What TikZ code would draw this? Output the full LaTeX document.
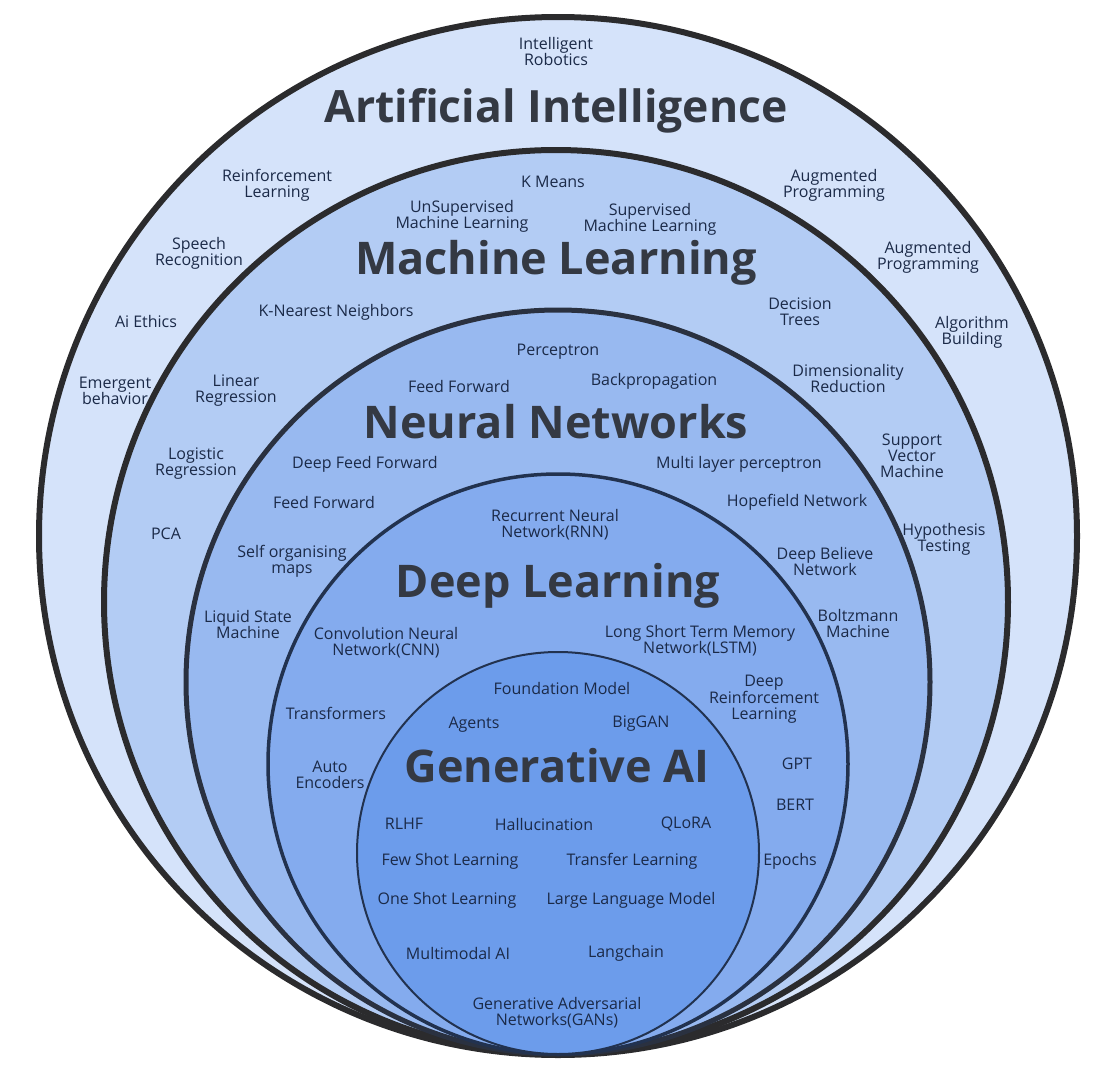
\documentclass[tikz,border=0pt]{standalone}
\usepackage{fontspec}
\setmainfont{Open Sans}
\definecolor{aiF}{HTML}{D5E3FA}
\definecolor{mlF}{HTML}{B3CCF4}
\definecolor{nnF}{HTML}{98B9F0}
\definecolor{dlF}{HTML}{84ABEE}
\definecolor{gaF}{HTML}{6C9CEB}
\definecolor{rimA}{HTML}{2B2B2D}
\definecolor{rimB}{HTML}{2A3140}
\definecolor{rimC}{HTML}{22324F}
\definecolor{lblC}{HTML}{1B2A48}
\definecolor{ttlC}{HTML}{343943}
\begin{document}
\begin{tikzpicture}[x=1pt,y=-1pt,
  lbl/.style={text=lblC,align=center,inner sep=0pt,font=\fontsize{16}{16}\selectfont},
  ttl/.style={text=ttlC,inner sep=0pt,anchor=base,font=\fontsize{45}{48}\selectfont\bfseries},
  ring/.style={circle,inner sep=0pt}]
\useasboundingbox (0,0) rectangle (1104,1084);
% circles (all tangent at bottom)
\node[ring,draw=rimA,line width=6pt,fill=aiF,minimum size=1038pt] (ai) at (558,536) {};
\node[ring,draw=rimA,line width=6pt,fill=mlF,minimum size=904pt] (ml) at (556,602) {};
\node[ring,draw=rimB,line width=5pt,fill=nnF,minimum size=744pt] (nn) at (558,682) {};
\node[ring,draw=rimC,line width=3.5pt,fill=dlF,minimum size=580pt] (dl) at (558,764) {};
\node[ring,draw=rimC,line width=2pt,fill=gaF,minimum size=402pt] (ga) at (558,853) {};
% AI ring
\node[lbl] (l1) at (556,51) {Intelligent\\Robotics};
\node[ttl,font=\fontsize{44.5}{48}\selectfont\bfseries] (tai) at (556,122) {Artificial Intelligence};
\node[lbl] (l2) at (277,185) {Reinforcement\\Learning};
\node[lbl] (l3) at (199,253) {Speech\\Recognition};
\node[lbl] (l4) at (146,321) {Ai Ethics};
\node[lbl] (l5) at (115,391) {Emergent\\behavior};
\node[lbl] (l6) at (834,185) {Augmented\\Programming};
\node[lbl] (l7) at (928,257) {Augmented\\Programming};
\node[lbl] (l8) at (972,332) {Algorithm\\Building};
% ML ring
\node[lbl] (m1) at (553,182) {K Means};
\node[lbl] (m2) at (462,216) {UnSupervised\\Machine Learning};
\node[lbl] (m3) at (650,219) {Supervised\\Machine Learning};
\node[ttl] (tml) at (556,274) {Machine Learning};
\node[lbl] (m4) at (336,312) {K-Nearest Neighbors};
\node[lbl] (m5) at (800,312) {Decision\\Trees};
\node[lbl] (m6) at (848,378) {Dimensionality\\Reduction};
\node[lbl] (m7) at (236,391) {Linear\\Regression};
\node[lbl] (m8) at (196,464) {Logistic\\Regression};
\node[lbl] (m9) at (166,534) {PCA};
\node[lbl] (m10) at (912,456) {Support\\Vector\\Machine};
\node[lbl] (m11) at (944,539) {Hypothesis\\Testing};
% NN ring
\node[lbl] (n1) at (558,352) {Perceptron};
\node[lbl] (n2) at (459,386) {Feed Forward};
\node[lbl] (n3) at (654,381) {Backpropagation};
\node[ttl] (tnn) at (556,438) {Neural Networks};
\node[lbl] (n4) at (365,464) {Deep Feed Forward};
\node[lbl] (n5) at (739,464) {Multi layer perceptron};
\node[lbl] (n6) at (324,502) {Feed Forward};
\node[lbl] (n7) at (797,502) {Hopefield Network};
\node[lbl] (n8) at (292,561) {Self organising\\maps};
\node[lbl] (n9) at (825,561) {Deep Believe\\Network};
\node[lbl] (n10) at (248,624) {Liquid State\\Machine};
\node[lbl] (n11) at (858,623) {Boltzmann\\Machine};
% DL ring
\node[lbl] (d1) at (555,525) {Recurrent Neural\\Network(RNN)};
\node[ttl] (tdl) at (558,597) {Deep Learning};
\node[lbl] (d2) at (386,643) {Convolution Neural\\Network(CNN)};
\node[lbl] (d3) at (700,641) {Long Short Term Memory\\Network(LSTM)};
\node[lbl] (d4) at (336,713) {Transformers};
\node[lbl] (d5) at (764,699) {Deep\\Reinforcement\\Learning};
\node[lbl] (d6) at (330,775) {Auto\\Encoders};
\node[lbl] (d7) at (797,764) {GPT};
\node[lbl] (d8) at (795,805) {BERT};
\node[lbl] (d9) at (790,861) {Epochs};
% GenAI
\node[lbl] (g1) at (562,688) {Foundation Model};
\node[lbl] (g2) at (474,725) {Agents};
\node[lbl] (g3) at (641,724) {BigGAN};
\node[ttl] (tga) at (557,782) {Generative AI};
\node[lbl] (g4) at (404,824) {RLHF};
\node[lbl] (g5) at (544,824) {Hallucination};
\node[lbl] (g6) at (686,824) {QLoRA};
\node[lbl] (g7) at (450,861) {Few Shot Learning};
\node[lbl] (g8) at (632,861) {Transfer Learning};
\node[lbl] (g9) at (447,900) {One Shot Learning};
\node[lbl] (g10) at (631,900) {Large Language Model};
\node[lbl] (g11) at (458,953) {Multimodal AI};
\node[lbl] (g12) at (626,953) {Langchain};
\node[lbl] (g13) at (557,1013) {Generative Adversarial\\Networks(GANs)};
\end{tikzpicture}
\end{document}
